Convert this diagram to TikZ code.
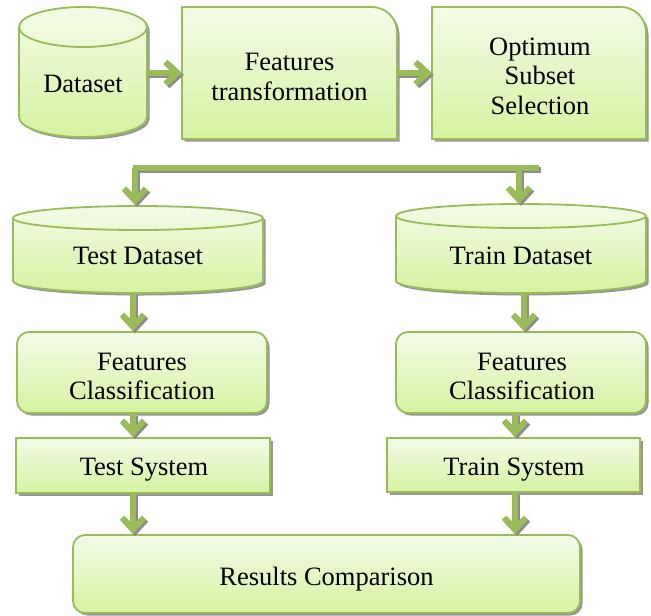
\documentclass[tikz,border=0pt]{standalone}
\usepackage{fontspec}
\setmainfont{Liberation Serif}
\usetikzlibrary{arrows.meta,calc,shadows}
\definecolor{bord}{RGB}{155,187,89}
\definecolor{ftop}{RGB}{243,251,232}
\definecolor{fbot}{RGB}{213,243,160}
\definecolor{shd}{RGB}{140,140,140}
\tikzset{
  boxfill/.style={top color=ftop, bottom color=fbot},
  boxline/.style={draw=bord, line width=1.8pt},
  dshadow/.style={drop shadow={shadow xshift=2.5pt, shadow yshift=-2.5pt, fill=shd, opacity=0.9}},
  lbl/.style={font=\fontsize{26.5}{29.5}\selectfont, align=center, inner sep=0pt},
  box/.style={boxfill, boxline, dshadow, inner sep=0pt},
  flow/.style={draw=bord, line width=6pt, -{Straight Barb[length=12pt,width=22pt]}},
  flowshadow/.style={draw=shd, line width=6pt, -{Straight Barb[length=12pt,width=22pt]}},
  barline/.style={draw=bord, line width=6pt},
  barshadow/.style={draw=shd, line width=6pt},
}
\newcommand\flowarrow[2]{%
  \draw[flowshadow] ([shift={(2,-2)}]#1) -- ([shift={(2,-2)}]#2);
  \draw[flow] (#1) -- (#2);}
% cylinder: x1, x2, ytop(center of top ellipse), ybottom, ry
\newcommand\cylshape[5]{%
  \path[boxfill, boxline, dshadow]
    (#1,#3) -- (#1,#4)
    arc[start angle=180, end angle=360, x radius={(#2-#1)/2}, y radius=#5]
    -- (#2,#3)
    arc[start angle=0, end angle=180, x radius={(#2-#1)/2}, y radius=#5] -- cycle;
  \draw[boxline] (#1,#3) arc[start angle=180, end angle=360, x radius={(#2-#1)/2}, y radius=#5];}
\begin{document}
\begin{tikzpicture}[x=1pt,y=1pt]
\useasboundingbox (0,0) rectangle (651,-616);

% ---- top row ----
\cylshape{19}{147}{-27}{-117}{20}
\node[lbl] (ds) at (83,-84) {Dataset};
\coordinate (dsE) at (147,-73);

\path[boxfill, boxline, dshadow] (182,-139) -- (182,-7) -- (372,-7)
  arc[start angle=90, end angle=0, radius=25] -- (397,-139) -- cycle;
\node[minimum width=215, minimum height=132, inner sep=0pt] (ft) at (289.5,-73) {};
\node[lbl] (ftT) at (289.5,-77) {Features\\transformation};

\path[boxfill, boxline, dshadow] (432,-139) -- (432,-7) -- (621,-7)
  arc[start angle=90, end angle=0, radius=25] -- (646,-139) -- cycle;
\node[minimum width=214, minimum height=132, inner sep=0pt] (os) at (539,-73) {};
\node[lbl] (osT) at (540,-76) {Optimum\\Subset\\Selection};

\flowarrow{dsE}{ft.west}
\flowarrow{ft.east}{os.west}

% ---- split bar ----
\coordinate (bl) at (133,-168);
\coordinate (br) at (539,-168);
\coordinate (aL) at (135,-168);
\coordinate (aR) at (519,-168);
\draw[barshadow] ([shift={(2,-2)}]bl) -- ([shift={(2,-2)}]br);
\draw[barline] (bl) -- (br);

% ---- datasets ----
\cylshape{13}{263}{-218}{-281}{12}
\node[lbl] (tds) at (138,-256) {Test Dataset};
\cylshape{396}{646}{-216}{-281}{12}
\node[lbl] (trd) at (521,-256) {Train Dataset};
\coordinate (tdsT) at (135,-205);
\coordinate (trdT) at (519,-204);
\coordinate (tdsB) at (133,-293);
\coordinate (trdB) at (524,-293);

\flowarrow{aL}{tdsT}
\flowarrow{aR}{trdT}

% ---- classification ----
\node[box, rounded corners=12pt, minimum width=250, minimum height=81] (fcl)
  at (142,-372.5) {};
\node[lbl] (fclT) at (142,-376.5) {Features\\Classification};
\node[box, rounded corners=12pt, minimum width=250, minimum height=81] (fcr)
  at (521,-372.5) {};
\node[lbl] (fcrT) at (522,-376.5) {Features\\Classification};

\flowarrow{tdsB}{tdsB |- fcl.north}
\flowarrow{trdB}{trdB |- fcr.north}

% ---- systems ----
\node[box, minimum width=254, minimum height=55] (ts) at (143,-465.5) {};
\node[lbl] (tsT) at (144,-470) {Test System};
\node[box, minimum width=253, minimum height=54] (trs) at (513.5,-465) {};
\node[lbl] (trsT) at (514,-469.5) {Train System};

\coordinate (lx) at (133,0);
\coordinate (rx) at (515,0);
\flowarrow{lx |- fcl.south}{lx |- ts.north}
\flowarrow{rx |- fcr.south}{rx |- trs.north}

% ---- results ----
\node[box, rounded corners=12pt, minimum width=507, minimum height=78] (rc)
  at (326.5,-574) {};
\node[lbl] (rcT) at (326.5,-579) {Results Comparison};

\flowarrow{lx |- ts.south}{lx |- rc.north}
\flowarrow{rx |- trs.south}{rx |- rc.north}
\end{tikzpicture}
\end{document}
